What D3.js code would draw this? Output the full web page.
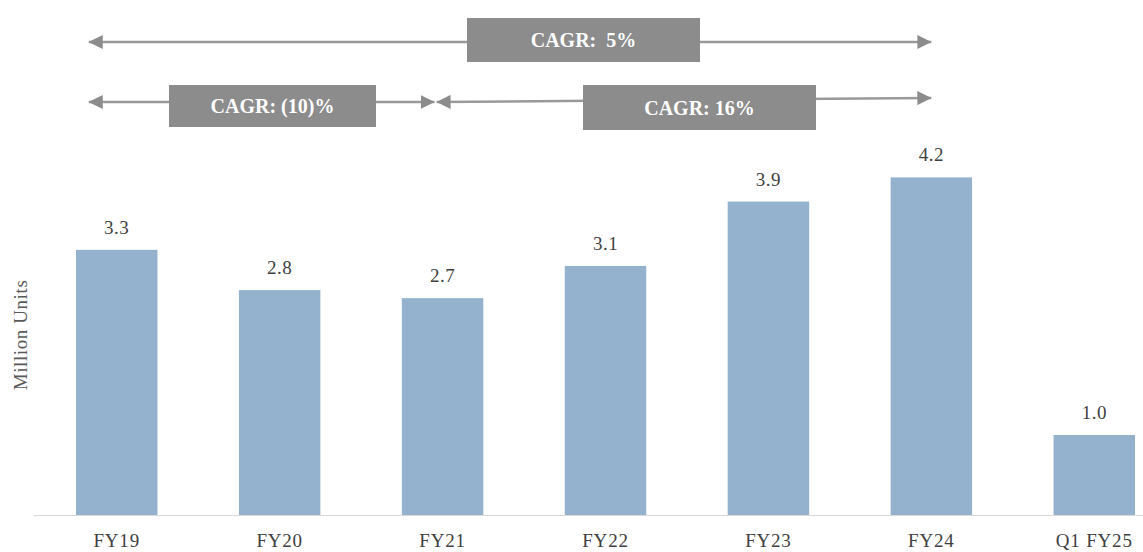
<!DOCTYPE html>
<html>
<head>
<meta charset="utf-8">
<script src="https://cdn.jsdelivr.net/npm/d3@7"></script>
<style>
  body { margin: 0; background: #fff; }
  svg text { font-family: "Liberation Serif", "Times New Roman", serif; white-space: pre; }
</style>
</head>
<body>
<svg id="chart" width="1143" height="552"></svg>
<script>
// chart data
var categories = ['FY19', 'FY20', 'FY21', 'FY22', 'FY23', 'FY24', 'Q1 FY25'];
var units = [3.3, 2.8, 2.7, 3.1, 3.9, 4.2, 1.0];
var valueLabels = ['3.3', '2.8', '2.7', '3.1', '3.9', '4.2', '1.0'];

// CAGR annotations: from / to category, label
var cagrFrom = ['FY19', 'FY19', 'FY21'];
var cagrTo = ['FY24', 'FY21', 'FY24'];
var cagrLabels = ['CAGR:  5%', 'CAGR: (10)%', 'CAGR: 16%'];

var svg = d3.select('#chart'),
  W = 1143, H = 552,
  base = 515.5;

var x = d3.scaleBand().domain(categories).range([76, 1135]).paddingInner(0.5).paddingOuter(0);
var y = d3.scaleLinear().domain([0, 5]).range([base, base - 5 * 80.5]);

// bars
svg.selectAll('rect.bar').data(units).enter().append('rect')
  .attr('class', 'bar')
  .attr('x', function (d, i) { return x(categories[i]); })
  .attr('y', function (d) { return y(d); })
  .attr('width', x.bandwidth())
  .attr('height', function (d) { return y(0) - y(d); })
  .attr('fill', '#94b2cd');

// value labels
svg.selectAll('text.val').data(units).enter().append('text')
  .attr('class', 'val')
  .attr('x', function (d, i) { return x(categories[i]) + x.bandwidth() / 2; })
  .attr('y', function (d) { return y(d) - 16; })
  .attr('text-anchor', 'middle')
  .attr('font-size', 19)
  .attr('letter-spacing', 0.5)
  .attr('fill', '#404040')
  .text(function (d, i) { return valueLabels[i]; });

// x axis
var xAxis = svg.append('g').attr('transform', 'translate(0,' + base + ')')
  .call(d3.axisBottom(x).tickSize(0).tickPadding(18));
xAxis.select('.domain').remove();
xAxis.selectAll('text').attr('font-size', 19).attr('fill', '#404040')
  .attr('letter-spacing', 0.8)
  .style('font-family', '"Liberation Serif", serif');
svg.append('line').attr('x1', 34).attr('x2', W).attr('y1', base).attr('y2', base)
  .attr('stroke', '#d9d9d9').attr('stroke-width', 1.2);

// y title
svg.append('text')
  .attr('transform', 'translate(27,335) rotate(-90)')
  .attr('text-anchor', 'middle')
  .attr('font-size', 19)
  .attr('letter-spacing', 0.6)
  .attr('fill', '#595959')
  .text('Million Units');

// arrow heads
var defs = svg.append('defs');
defs.append('marker').attr('id', 'ah').attr('viewBox', '0 0 10 10')
  .attr('refX', 10).attr('refY', 5)
  .attr('markerUnits', 'userSpaceOnUse').attr('orient', 'auto-start-reverse')
  .attr('markerWidth', 14).attr('markerHeight', 14)
  .append('path').attr('d', 'M0,0 L10,5 L0,10 Z').attr('fill', '#8c8c8c');

var cx = function (c) { return x(c) + x.bandwidth() / 2; };
var rows = [
  { x1: cx(cagrFrom[0]) - 28, x2: cx(cagrTo[0]), y1: 42, y2: 42, bx: 467, bw: 233, by: 18, bh: 44 },
  { x1: cx(cagrFrom[1]) - 28, x2: cx(cagrTo[1]) - 8, y1: 102, y2: 102, bx: 169, bw: 207, by: 85, bh: 42 },
  { x1: cx(cagrFrom[2]) - 6, x2: cx(cagrTo[2]), y1: 102, y2: 98, bx: 583, bw: 233, by: 85, bh: 45 }
];

rows.forEach(function (r, i) {
  svg.append('line')
    .attr('x1', r.x1).attr('y1', r.y1).attr('x2', r.x2).attr('y2', r.y2)
    .attr('stroke', '#999999').attr('stroke-width', 2.5)
    .attr('marker-start', 'url(#ah)').attr('marker-end', 'url(#ah)');
  svg.append('rect').attr('x', r.bx).attr('y', r.by).attr('width', r.bw).attr('height', r.bh)
    .attr('fill', '#8c8c8c');
  svg.append('text')
    .attr('x', r.bx + r.bw / 2).attr('y', r.by + r.bh / 2 + 7)
    .attr('text-anchor', 'middle')
    .attr('font-size', 20).attr('font-weight', 'bold')
    .attr('fill', '#ffffff')
    .text(cagrLabels[i]);
});
</script>
</body>
</html>
